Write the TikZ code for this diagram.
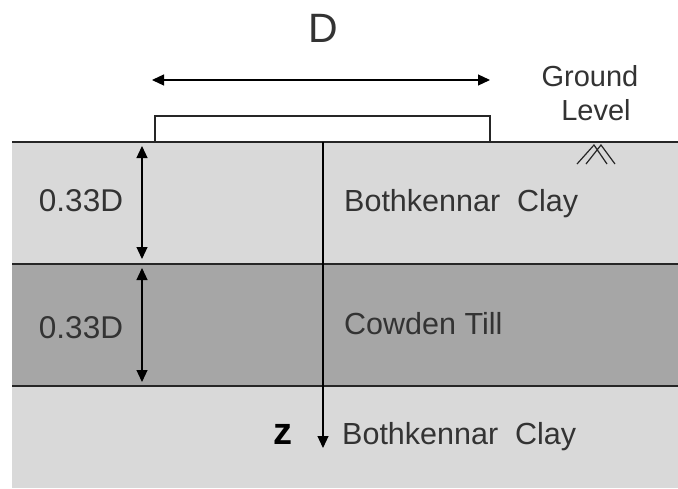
\documentclass[tikz,border=0pt]{standalone}
\usepackage{fontspec}
\setmainfont{Liberation Sans}
\usetikzlibrary{arrows.meta}
\definecolor{claygray}{HTML}{D9D9D9}
\definecolor{tillgray}{HTML}{A6A6A6}
\tikzset{
  x=1pt, y=-1pt,
  boundary/.style={line width=1.3pt, draw=black!85},
  dimarrow/.style={line width=1.2pt, {Triangle[length=12pt,width=11pt]}-{Triangle[length=12pt,width=11pt]}},
  axisarrow/.style={line width=1.2pt, -{Triangle[length=12pt,width=11pt]}},
  label/.style={font=\fontsize{29}{32}\selectfont, text=black!80, inner sep=0pt},
  layertext/.style={label, font=\fontsize{30.5}{34}\selectfont, anchor=west},
  dimtext/.style={label, font=\fontsize{31.5}{34}\selectfont},
}
\begin{document}
\begin{tikzpicture}
  % canvas
  \useasboundingbox[fill=white] (0,0) rectangle (678,488);

  % soil layers
  \fill[claygray] (12,142) rectangle (678,264);
  \fill[tillgray] (12,264) rectangle (678,386);
  \fill[claygray] (12,386) rectangle (678,488);
  \draw[boundary] (12,142) -- (678,142);
  \draw[boundary] (12,264) -- (678,264);
  \draw[boundary] (12,386) -- (678,386);

  % footing
  \draw[boundary, fill=white] (155,142) rectangle (490,116);

  % width dimension
  \node[label, font=\fontsize{41}{44}\selectfont] (dlabel) at (323,28) {D};
  \coordinate (dl) at (152,80);
  \coordinate (dr) at (490,80);
  \draw[dimarrow] (dl) -- (dr);

  % ground level marker
  \node[label] (ground) at (590,76) {Ground};
  \node[label] (level) at (596,110) {Level};
  \draw[line width=1.2pt, black!85] (577,164) -- (594,145) -- (607,164)
                                    (586,164) -- (601,145) -- (615,164);

  % depth axis
  \coordinate (ztop) at (323,142);
  \coordinate (zend) at (323,448);
  \draw[axisarrow] (ztop) -- (zend);
  \node[label, font=\bfseries\fontsize{38}{40}\selectfont, text=black] (zlabel) at (283,434) {z};

  % layer thickness dimensions
  \coordinate (a1) at (142,146);
  \coordinate (a2) at (142,259);
  \coordinate (b1) at (142,268);
  \coordinate (b2) at (142,382);
  \draw[dimarrow] (a1) -- (a2);
  \draw[dimarrow] (b1) -- (b2);
  \node[dimtext] (t1) at (81,201) {0.33D};
  \node[dimtext] (t2) at (81,328) {0.33D};

  % layer names
  \node[layertext] (l1) at (344,204) {Bothkennar\ \ Clay};
  \node[layertext] (l2) at (344,324) {Cowden Till};
  \node[layertext] (l3) at (342,437) {Bothkennar\ \ Clay};
\end{tikzpicture}
\end{document}
